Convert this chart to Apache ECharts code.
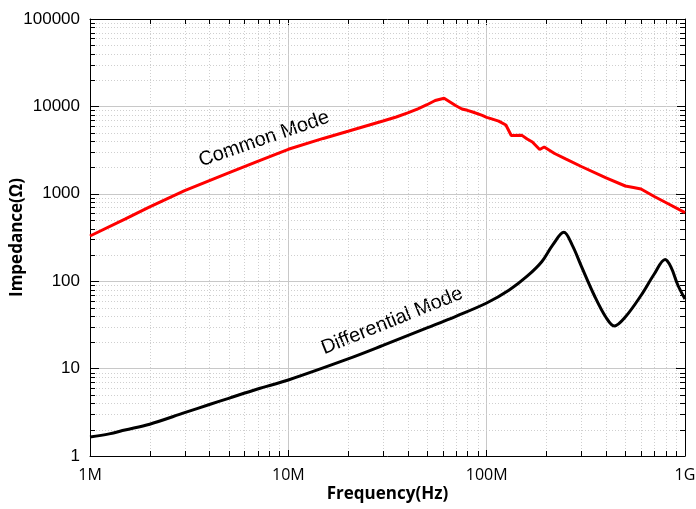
<!DOCTYPE html>
<html>
<head>
<meta charset="utf-8">
<script src="https://cdn.jsdelivr.net/npm/echarts@6/dist/echarts.min.js"></script>
<style>
html,body{margin:0;padding:0;background:#fff;}
#chart{width:696px;height:509px;}
</style>
</head>
<body>
<div id="chart"></div>
<script>
// Frequencies (Hz) and impedance (Ohm)
const cmFreq = [1e6,1.5e6,2e6,3e6,5e6,7e6,10e6,15e6,20e6,30e6,35e6,40e6,45e6,50e6,55e6,61e6,70e6,75e6,80e6,85e6,95e6,100e6,105e6,115e6,125e6,133e6,150e6,160e6,170e6,185e6,195e6,220e6,250e6,300e6,400e6,500e6,550e6,600e6,700e6,800e6,1e9];
const cmZ    = [329,512,710,1085,1735,2355,3230,4300,5190,6810,7570,8430,9390,10450,11690,12380,10160,9330,9020,8630,7900,7500,7250,6780,6120,4640,4690,4240,3915,3215,3430,2890,2507,2053,1517,1228,1180,1135,931,795,608];

const dmFreq = [1e6,1.25e6,1.5e6,2e6,3e6,4e6,5e6,7e6,10e6,20e6,30e6,50e6,70e6,100e6,130e6,160e6,190e6,215e6,245e6,270e6,300e6,350e6,400e6,440e6,500e6,600e6,700e6,794e6,850e6,920e6,1e9];
const dmZ    = [1.65,1.79,1.98,2.31,3.13,3.88,4.57,5.84,7.41,12.9,18.4,29.2,39.7,56.3,79.3,114,168,259,362,259,149,67.7,38.4,30.7,38.9,68.6,121,177,145,90.5,62.5];

// axis tick values
const xMajorTicks = [1e6,1e7,1e8,1e9];
const xTickLabels = ['1M','10M','100M','1G'];
const yTickLabels = [1,10,100,1000,10000,100000];
const xMinorTicks = [2e6,3e6,4e6,5e6,6e6,7e6,8e6,9e6,2e7,3e7,4e7,5e7,6e7,7e7,8e7,9e7,2e8,3e8,4e8,5e8,6e8,7e8,8e8,9e8];
const yMinorTicks = [2,3,4,5,6,7,8,9,20,30,40,50,60,70,80,90,200,300,400,500,600,700,800,900,2000,3000,4000,5000,6000,7000,8000,9000,20000,30000,40000,50000,60000,70000,80000,90000];

const X_MIN = 1e6, X_MAX = 1e9, Y_MIN = 1, Y_MAX = 1e5;
const zip = (a,b)=>a.map((v,i)=>[v,b[i]]);
const px = v => Math.round(v) + 0.5;
const minorGridStyle = {stroke:'#cfcfcf', lineWidth:1, lineDash:[1,2]};
const minorTickStyle = {stroke:'#000', lineWidth:1};

const chart = echarts.init(document.getElementById('chart'));
const axisLine = {show:true,lineStyle:{color:'#000',width:1}};
const baseX = {
  type:'log', logBase:10, min:X_MIN, max:X_MAX,
  axisLine,
  axisTick:{show:true,inside:true,length:6,lineStyle:{color:'#000'}},
  minorTick:{show:false}, minorSplitLine:{show:false}
};
const baseY = {
  type:'log', logBase:10, min:Y_MIN, max:Y_MAX,
  axisLine,
  axisTick:{show:true,inside:true,length:9,lineStyle:{color:'#000'}},
  minorTick:{show:false}, minorSplitLine:{show:false}
};
chart.setOption({
  animation:false,
  backgroundColor:'#fff',
  grid:{left:90,right:11,top:19,bottom:53,containLabel:false,outerBoundsMode:'none'},
  xAxis:[
    Object.assign({}, baseX, {
      position:'bottom',
      name:'Frequency(Hz)', nameLocation:'middle', nameGap:30, nameMoveOverlap:false,
      nameTextStyle:{fontFamily:'Open Sans',fontWeight:'bold',fontSize:17,color:'#000'},
      axisLabel:{show:true,margin:11,fontFamily:'Open Sans',fontSize:16,color:'#000',
        formatter:v=>{const i=xMajorTicks.findIndex(t=>Math.abs(t-v)/t<1e-6);return i>=0?xTickLabels[i]:'';}},
      splitLine:{show:true,lineStyle:{color:'#c8c8c8',width:1}}
    }),
    Object.assign({}, baseX, {
      position:'top', axisLabel:{show:false}, splitLine:{show:false}
    })
  ],
  yAxis:[
    Object.assign({}, baseY, {
      position:'left',
      name:'Impedance(Ω)', nameLocation:'middle', nameGap:64, nameMoveOverlap:false,
      nameTextStyle:{fontFamily:'Open Sans',fontWeight:'bold',fontSize:17,color:'#000'},
      axisLabel:{show:true,margin:10,fontFamily:'Liberation Sans',fontSize:17,color:'#000',
        formatter:v=>yTickLabels.includes(Math.round(v))?String(Math.round(v)):''},
      splitLine:{show:true,lineStyle:{color:'#c8c8c8',width:1}}
    }),
    Object.assign({}, baseY, {
      position:'right', axisLabel:{show:false}, splitLine:{show:false}
    })
  ],
  series:[
    {type:'custom',name:'xMinor',silent:true,z:1,clip:false,
      data:xMinorTicks.map(v=>[v,Y_MIN]),
      renderItem:(params,api)=>{
        const v=api.value(0);
        const b=api.coord([v,Y_MIN]), t=api.coord([v,Y_MAX]);
        const x=px(b[0]);
        return {type:'group',children:[
          {type:'line',shape:{x1:x,y1:t[1],x2:x,y2:b[1]},style:minorGridStyle},
          {type:'line',shape:{x1:x,y1:b[1],x2:x,y2:b[1]-5},style:minorTickStyle,z2:10},
          {type:'line',shape:{x1:x,y1:t[1],x2:x,y2:t[1]+5},style:minorTickStyle,z2:10}
        ]};
      }},
    {type:'custom',name:'yMinor',silent:true,z:1,clip:false,
      data:yMinorTicks.map(v=>[X_MIN,v]),
      renderItem:(params,api)=>{
        const v=api.value(1);
        const l=api.coord([X_MIN,v]), r=api.coord([X_MAX,v]);
        const y=px(l[1]);
        return {type:'group',children:[
          {type:'line',shape:{x1:l[0],y1:y,x2:r[0],y2:y},style:minorGridStyle},
          {type:'line',shape:{x1:l[0],y1:y,x2:l[0]+5,y2:y},style:minorTickStyle,z2:10},
          {type:'line',shape:{x1:r[0],y1:y,x2:r[0]-5,y2:y},style:minorTickStyle,z2:10}
        ]};
      }},
    {type:'line',name:'Common Mode',data:zip(cmFreq,cmZ),showSymbol:false,
      lineStyle:{color:'#ff0000',width:3},smooth:false,z:3},
    {type:'line',name:'Differential Mode',data:zip(dmFreq,dmZ),showSymbol:false,
      lineStyle:{color:'#000',width:3},smooth:0.35,z:3}
  ],
  graphic:[
    {type:'text',x:264,y:139,rotation:19*Math.PI/180,
      style:{text:'Common Mode',font:'20px "Liberation Sans"',fill:'#000',align:'center',verticalAlign:'middle'}},
    {type:'text',x:392,y:321,rotation:22*Math.PI/180,
      style:{text:'Differential Mode',font:'20px "Liberation Sans"',fill:'#000',align:'center',verticalAlign:'middle'}}
  ]
});
</script>
</body>
</html>
